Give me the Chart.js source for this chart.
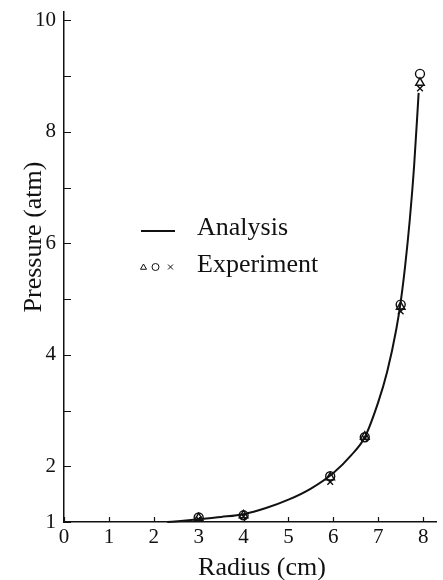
<!DOCTYPE html>
<html>
<head>
<meta charset="utf-8">
<title>Pressure vs Radius</title>
<script src="https://cdn.jsdelivr.net/npm/chart.js@4.4.1/dist/chart.umd.min.js"></script>
<style>
  html, body { margin: 0; padding: 0; background: #fff; }
  #wrap { width: 443px; height: 580px; }
</style>
</head>
<body>
<div id="wrap"><canvas id="pressure-chart" width="443" height="580"></canvas></div>
<script>
// Analysis curve (radius in cm, pressure in atm)
const analysisRadius = [2.3, 2.6, 3.0, 3.5, 4.0, 4.5, 5.0, 5.5, 6.0, 6.4, 6.7, 7.0, 7.2, 7.4, 7.5, 7.6, 7.7, 7.8, 7.9];
const analysisPressure = [1.0, 1.02, 1.05, 1.09, 1.14, 1.25, 1.4, 1.6, 1.88, 2.2, 2.52, 3.15, 3.7, 4.45, 4.95, 5.6, 6.4, 7.4, 8.7];

// Experiment points, three runs measured at the same radii
const expRadius = [3.0, 4.0, 5.93, 6.7, 7.5, 7.93];
const trianglePressure = [1.07, 1.12, 1.8, 2.53, 4.86, 8.88];
const circlePressure = [1.08, 1.12, 1.82, 2.52, 4.9, 9.04];
const crossPressure = [1.05, 1.1, 1.72, 2.5, 4.78, 8.78];

// Axis ticks
const xTickValues = [0, 1, 2, 3, 4, 5, 6, 7, 8];
const yTickValues = [1, 2, 3, 4, 5, 6, 7, 8, 9, 10];
const yTickLabels = ['1', '2', '', '4', '', '6', '', '8', '', '10'];

const ink = '#111';
const serif = '"Liberation Serif", "DejaVu Serif", serif';

function toPoints(xs, ys) {
    return xs.map((x, i) => ({ x: x, y: ys[i] }));
}

// Short tick marks pointing into the plot, axis titles and the inset legend
const paperMarks = {
    id: 'paperMarks',
    afterDraw(chart) {
        const ctx = chart.ctx;
        const xs = chart.scales.x;
        const ys = chart.scales.y;
        const area = chart.chartArea;
        ctx.save();
        ctx.strokeStyle = ink;
        ctx.lineWidth = 1.2;
        ctx.beginPath();
        xs.ticks.forEach(t => {
            const px = Math.round(xs.getPixelForValue(t.value)) + 0.5;
            ctx.moveTo(px, area.bottom);
            ctx.lineTo(px, area.bottom - 5);
        });
        ys.ticks.forEach(t => {
            const py = Math.round(ys.getPixelForValue(t.value)) + 0.5;
            ctx.moveTo(area.left, py);
            ctx.lineTo(area.left + 7, py);
        });
        ctx.stroke();

        // axis titles
        ctx.fillStyle = ink;
        ctx.font = '26px ' + serif;
        ctx.textAlign = 'center';
        ctx.textBaseline = 'alphabetic';
        ctx.fillText('Radius (cm)', 262, 575);
        ctx.save();
        ctx.translate(41, 237);
        ctx.rotate(-Math.PI / 2);
        ctx.fillText('Pressure (atm)', 0, 0);
        ctx.restore();

        // legend
        ctx.lineWidth = 1.8;
        ctx.beginPath();
        ctx.moveTo(141, 231);
        ctx.lineTo(175, 231);
        ctx.stroke();
        ctx.textAlign = 'left';
        ctx.textBaseline = 'middle';
        ctx.fillText('Analysis', 197, 228);
        ctx.fillText('Experiment', 197, 265);
        ctx.fillStyle = 'rgba(0,0,0,0)';
        ctx.lineWidth = 1;
        const marker = { radius: 3.5, rotation: 0, borderWidth: 1 };
        Chart.helpers.drawPoint(ctx, Object.assign({ pointStyle: 'triangle' }, marker), 143.5, 267.5);
        Chart.helpers.drawPoint(ctx, Object.assign({ pointStyle: 'circle' }, marker), 155.5, 267);
        Chart.helpers.drawPoint(ctx, Object.assign({ pointStyle: 'crossRot' }, marker), 170.5, 267);
        ctx.restore();
    }
};

const pressureChart = new Chart(document.getElementById('pressure-chart'), {
    type: 'scatter',
    data: {
        datasets: [
            {
                label: 'Analysis',
                type: 'line',
                data: toPoints(analysisRadius, analysisPressure),
                borderColor: ink,
                borderWidth: 2,
                pointRadius: 0,
                cubicInterpolationMode: 'monotone',
                fill: false,
                clip: false
            },
            {
                label: 'Experiment',
                data: toPoints(expRadius, trianglePressure),
                pointStyle: 'triangle',
                pointRadius: 5,
                borderColor: ink,
                borderWidth: 1.4,
                backgroundColor: 'rgba(0,0,0,0)'
            },
            {
                label: 'Experiment',
                data: toPoints(expRadius, circlePressure),
                pointStyle: 'circle',
                pointRadius: 4.5,
                borderColor: ink,
                borderWidth: 1.4,
                backgroundColor: 'rgba(0,0,0,0)'
            },
            {
                label: 'Experiment',
                data: toPoints(expRadius, crossPressure),
                pointStyle: 'crossRot',
                pointRadius: 4,
                borderColor: ink,
                borderWidth: 1.4,
                backgroundColor: 'rgba(0,0,0,0)'
            }
        ]
    },
    options: {
        responsive: false,
        animation: false,
        layout: { padding: { top: 12, right: 0, bottom: 0, left: 0 } },
        plugins: {
            legend: { display: false },
            tooltip: { enabled: false }
        },
        scales: {
            x: {
                type: 'linear',
                min: 0,
                max: 8.3,
                grid: { display: false, drawTicks: false },
                border: { display: true, color: ink, width: 1.5 },
                ticks: {
                    color: ink,
                    font: { family: serif, size: 21 },
                    padding: 3,
                    callback: v => String(v)
                },
                afterBuildTicks: s => { s.ticks = xTickValues.map(v => ({ value: v })); },
                afterFit: s => { s.height = 58; s.paddingLeft = 0; s.paddingRight = 0; }
            },
            y: {
                type: 'linear',
                min: 1,
                max: 10.15,
                grid: { display: false, drawTicks: false },
                border: { display: true, color: ink, width: 1.5 },
                ticks: {
                    color: ink,
                    font: { family: serif, size: 21 },
                    padding: 8,
                    callback: v => yTickLabels[yTickValues.indexOf(v)]
                },
                afterBuildTicks: s => { s.ticks = yTickValues.map(v => ({ value: v })); },
                afterFit: s => { s.width = 64; s.paddingTop = 0; s.paddingBottom = 0; }
            }
        }
    },
    plugins: [paperMarks]
});
</script>
</body>
</html>
